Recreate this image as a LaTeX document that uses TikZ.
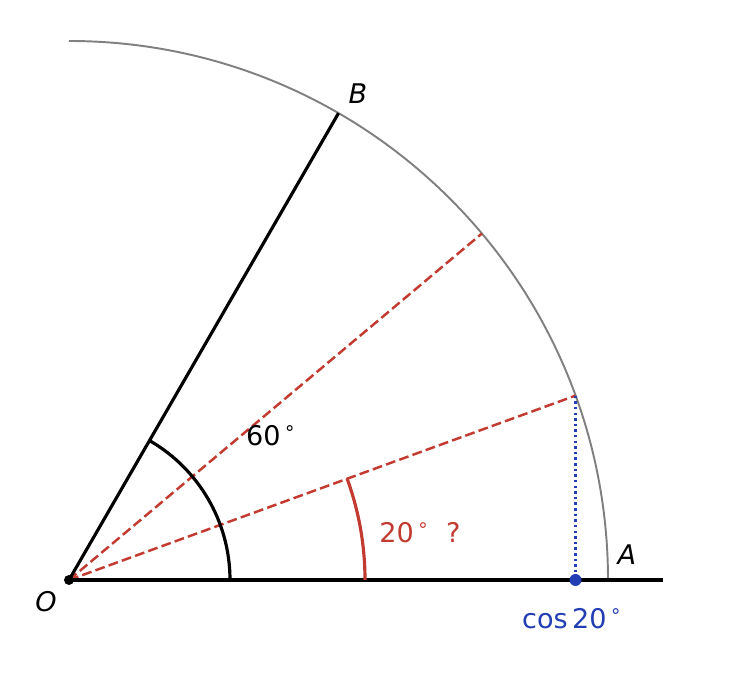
\documentclass[tikz,border=0pt]{standalone}
\usepackage{fontspec}
\setmainfont{DejaVu Sans}
\usepackage{tikz}
\def\rad{10.78}
\def\deg{\hspace{0.12em}\raisebox{0.42em}{\fontsize{10.8}{11}\selectfont ∘}}
\definecolor{arcred}{RGB}{194,58,48}
\definecolor{cosblue}{RGB}{34,62,178}

\begin{document}
\begin{tikzpicture}[
        lbl/.style={font=\fontsize{15.4}{18}\selectfont},
        ray/.style={line width=1.8pt},
        guess/.style={arcred, line width=1.4pt, dash pattern=on 5.6pt off 2.4pt}
    ]
            \useasboundingbox (-1.38, -1.92) rectangle (13.22, 11.6);

            \coordinate (O) at (0, 0);
            \coordinate (X) at (11.88, 0);
            \coordinate (A) at (0:\rad);
            \coordinate (B) at (60:\rad);
            \coordinate (P40) at (40:\rad);
            \coordinate (P20) at (20:\rad);
            \coordinate (C) at (P20 |- O);

            \draw[gray, line width=1.1pt] (A) arc[start angle=0, end angle=90, radius=\rad];

            \draw[guess] (O) -- (P40);
            \draw[guess] (O) -- (P20);
            \draw[draw=cosblue, line width=1.5pt, dash pattern=on 1.4pt off 1.8pt] (P20) -- (C);

            \draw[ray] (O) -- (X);
            \draw[ray] (O) -- (B);
            \draw[ray] (3.22, 0) arc[start angle=0, end angle=60, radius=3.22];
            \draw[arcred, line width=1.8pt] (5.92, 0) arc[start angle=0, end angle=20, radius=5.92];

            \fill (O) circle (0.1);
            \fill[cosblue] (C) circle (0.12);

            \node[lbl] (lO) at (-0.46, -0.44) {\itshape O};
            \node[lbl] (lA) at (11.16, 0.5) {\itshape A};
            \node[lbl] (lB) at (5.78, 9.72) {\itshape B};
            \node[lbl] (l60) at (4.04, 2.88) {60\deg};
            \node[lbl, arcred] (l20) at (7.02, 0.94) {20\deg\ \ ?};
            \node[lbl, cosblue] (lcos) at (10.06, -0.78) {cos\,20\deg};
        \end{tikzpicture}
\end{document}
